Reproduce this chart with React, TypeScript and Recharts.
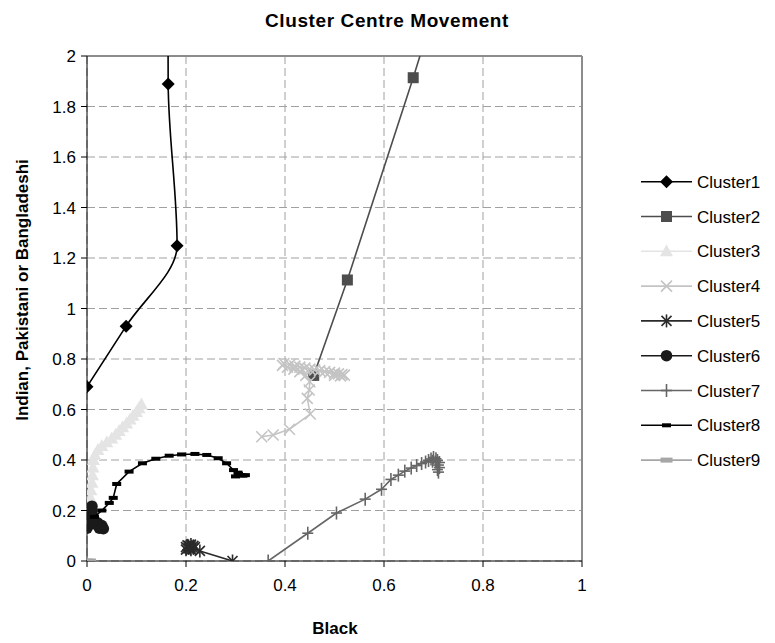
import React from 'react';
import { ScatterChart, Scatter, XAxis, YAxis, CartesianGrid, ReferenceLine, Legend } from 'recharts';

const FONT = '"Liberation Sans", Arial, Helvetica, sans-serif';

const xTicks = [0, 0.2, 0.4, 0.6, 0.8, 1];
const yTicks = [0, 0.2, 0.4, 0.6, 0.8, 1, 1.2, 1.4, 1.6, 1.8, 2];

const cluster1 = [
  { x: 0, y: 0.69 }, { x: 0.079, y: 0.93 }, { x: 0.182, y: 1.249 }, { x: 0.164, y: 1.889 }, { x: 0.163, y: 2.5 },
];
const cluster2 = [
  { x: 0.458, y: 0.735 }, { x: 0.526, y: 1.113 }, { x: 0.659, y: 1.914 }, { x: 0.72, y: 2.3 },
];
const cluster3 = [
  { x: 0.003, y: 0.19 }, { x: 0.005, y: 0.22 }, { x: 0.007, y: 0.25 }, { x: 0.008, y: 0.28 }, { x: 0.01, y: 0.31 },
  { x: 0.011, y: 0.34 }, { x: 0.012, y: 0.37 }, { x: 0.013, y: 0.4 }, { x: 0.016, y: 0.42 }, { x: 0.022, y: 0.44 },
  { x: 0.03, y: 0.455 }, { x: 0.04, y: 0.47 }, { x: 0.05, y: 0.485 }, { x: 0.058, y: 0.5 }, { x: 0.065, y: 0.515 },
  { x: 0.072, y: 0.53 }, { x: 0.08, y: 0.545 }, { x: 0.087, y: 0.56 }, { x: 0.093, y: 0.575 }, { x: 0.1, y: 0.59 },
  { x: 0.105, y: 0.605 }, { x: 0.11, y: 0.62 },
];
const cluster4 = [
  { x: 0.353, y: 0.492 }, { x: 0.376, y: 0.499 }, { x: 0.409, y: 0.522 }, { x: 0.451, y: 0.582 }, { x: 0.445, y: 0.644 },
  { x: 0.449, y: 0.677 }, { x: 0.45, y: 0.71 }, { x: 0.442, y: 0.735 }, { x: 0.43, y: 0.75 }, { x: 0.418, y: 0.76 },
  { x: 0.405, y: 0.768 }, { x: 0.395, y: 0.775 }, { x: 0.398, y: 0.782 }, { x: 0.41, y: 0.778 }, { x: 0.42, y: 0.772 },
  { x: 0.43, y: 0.768 }, { x: 0.44, y: 0.764 }, { x: 0.45, y: 0.76 }, { x: 0.46, y: 0.757 }, { x: 0.47, y: 0.754 },
  { x: 0.48, y: 0.75 }, { x: 0.49, y: 0.747 }, { x: 0.5, y: 0.744 }, { x: 0.508, y: 0.741 }, { x: 0.515, y: 0.738 },
  { x: 0.52, y: 0.736 }, { x: 0.512, y: 0.733 }, { x: 0.5, y: 0.735 },
];
const cluster5 = [
  { x: 0.294, y: 0 }, { x: 0.228, y: 0.04 }, { x: 0.215, y: 0.05 }, { x: 0.205, y: 0.06 }, { x: 0.2, y: 0.055 },
  { x: 0.21, y: 0.065 }, { x: 0.215, y: 0.06 }, { x: 0.205, y: 0.05 }, { x: 0.2, y: 0.045 }, { x: 0.21, y: 0.045 },
  { x: 0.218, y: 0.055 }, { x: 0.203, y: 0.062 }, { x: 0.208, y: 0.052 },
];
const cluster6 = [
  { x: 0.01, y: 0.217 }, { x: 0.01, y: 0.2 }, { x: 0.008, y: 0.185 }, { x: 0.005, y: 0.17 }, { x: 0.003, y: 0.155 },
  { x: 0, y: 0.14 }, { x: 0, y: 0.13 }, { x: 0.012, y: 0.148 }, { x: 0.022, y: 0.15 }, { x: 0.03, y: 0.14 },
  { x: 0.033, y: 0.128 }, { x: 0.025, y: 0.13 }, { x: 0.015, y: 0.16 }, { x: 0.012, y: 0.175 },
];
const cluster7 = [
  { x: 0.366, y: 0 }, { x: 0.446, y: 0.11 }, { x: 0.504, y: 0.19 }, { x: 0.562, y: 0.245 }, { x: 0.595, y: 0.284 },
  { x: 0.614, y: 0.323 }, { x: 0.629, y: 0.34 }, { x: 0.642, y: 0.356 }, { x: 0.655, y: 0.368 }, { x: 0.666, y: 0.378 },
  { x: 0.676, y: 0.386 }, { x: 0.684, y: 0.392 }, { x: 0.69, y: 0.398 }, { x: 0.695, y: 0.404 }, { x: 0.7, y: 0.41 },
  { x: 0.705, y: 0.405 }, { x: 0.708, y: 0.398 }, { x: 0.712, y: 0.39 }, { x: 0.71, y: 0.38 }, { x: 0.712, y: 0.37 },
  { x: 0.708, y: 0.362 }, { x: 0.71, y: 0.352 }, { x: 0.704, y: 0.392 }, { x: 0.698, y: 0.395 },
];
const cluster8 = [
  { x: 0.015, y: 0.175 }, { x: 0.03, y: 0.2 }, { x: 0.045, y: 0.23 }, { x: 0.053, y: 0.25 }, { x: 0.06, y: 0.305 },
  { x: 0.085, y: 0.354 }, { x: 0.112, y: 0.387 }, { x: 0.139, y: 0.405 }, { x: 0.166, y: 0.417 }, { x: 0.191, y: 0.422 },
  { x: 0.218, y: 0.424 }, { x: 0.242, y: 0.42 }, { x: 0.265, y: 0.407 }, { x: 0.282, y: 0.387 }, { x: 0.296, y: 0.36 },
  { x: 0.306, y: 0.345 }, { x: 0.31, y: 0.34 }, { x: 0.315, y: 0.338 }, { x: 0.32, y: 0.34 }, { x: 0.305, y: 0.35 },
  { x: 0.3, y: 0.335 },
];
const cluster9 = [{ x: 0, y: 0 }, { x: 0.006, y: 0 }];

const seriesNames = ['Cluster1', 'Cluster2', 'Cluster3', 'Cluster4', 'Cluster5', 'Cluster6', 'Cluster7', 'Cluster8', 'Cluster9'];
const seriesData = [cluster1, cluster2, cluster3, cluster4, cluster5, cluster6, cluster7, cluster8, cluster9];
const seriesColors = ['#000000', '#4d4d4d', '#e4e4e4', '#c4c4c4', '#2a2a2a', '#1a1a1a', '#666666', '#000000', '#a6a6a6'];
const seriesMarkers = ['diamond', 'square', 'triangle', 'x', 'asterisk', 'circle', 'plus', 'dash', 'bar'];
const seriesCurves = ['monotoneY', 'linear', 'linear', 'linear', 'linear', 'linear', 'linear', 'linear', 'linear'];

function Marker({ kind, cx, cy, color }: { kind: string; cx: number; cy: number; color: string }) {
  if (cx == null || cy == null || isNaN(cx) || isNaN(cy)) return null;
  switch (kind) {
    case 'diamond':
      return <polygon points={`${cx},${cy - 6.5} ${cx + 6.5},${cy} ${cx},${cy + 6.5} ${cx - 6.5},${cy}`} fill={color} />;
    case 'square':
      return <rect x={cx - 5.5} y={cy - 5.5} width={11} height={11} fill={color} />;
    case 'triangle':
      return <polygon points={`${cx},${cy - 7} ${cx + 6.5},${cy + 5} ${cx - 6.5},${cy + 5}`} fill={color} />;
    case 'x':
      return (
        <g stroke={color} strokeWidth={1.6}>
          <line x1={cx - 5.5} y1={cy - 5.5} x2={cx + 5.5} y2={cy + 5.5} />
          <line x1={cx - 5.5} y1={cy + 5.5} x2={cx + 5.5} y2={cy - 5.5} />
        </g>
      );
    case 'asterisk':
      return (
        <g stroke={color} strokeWidth={1.6}>
          <line x1={cx - 5} y1={cy - 5} x2={cx + 5} y2={cy + 5} />
          <line x1={cx - 5} y1={cy + 5} x2={cx + 5} y2={cy - 5} />
          <line x1={cx} y1={cy - 6.5} x2={cx} y2={cy + 6.5} />
        </g>
      );
    case 'circle':
      return <circle cx={cx} cy={cy} r={5.8} fill={color} />;
    case 'plus':
      return (
        <g stroke={color} strokeWidth={1.6}>
          <line x1={cx - 5.5} y1={cy} x2={cx + 5.5} y2={cy} />
          <line x1={cx} y1={cy - 6.5} x2={cx} y2={cy + 6.5} />
        </g>
      );
    case 'dash':
      return <rect x={cx - 4.5} y={cy - 2} width={9} height={4} fill={color} />;
    case 'bar':
      return <rect x={cx - 6} y={cy - 2.5} width={12} height={5} fill={color} />;
    default:
      return null;
  }
}

function LegendBox() {
  return (
    <svg width={145} height={320} style={{ display: 'block' }}>
      {seriesNames.map((name, i) => {
        const y = 21.7 + i * 34.8;
        return (
          <g key={name}>
            <line x1={11} y1={y} x2={62} y2={y} stroke={seriesColors[i]} strokeWidth={1.6} />
            <Marker kind={seriesMarkers[i]} cx={36.5} cy={y} color={seriesColors[i]} />
            <text x={67} y={y} dy="0.36em" fontSize={17} fontFamily={FONT} fill="#000">{name}</text>
          </g>
        );
      })}
    </svg>
  );
}

export default function App() {
  const tickStyle = { fontSize: 17, fill: '#000', fontFamily: FONT };
  return (
    <div style={{ position: 'absolute', left: 0, top: 0, width: 775, height: 643, background: '#fff' }}>
      <ScatterChart width={775} height={643} margin={{ top: 56, right: 193, bottom: 0, left: 0 }}>
        <CartesianGrid stroke="#a0a0a0" strokeDasharray="8 4" />
        <XAxis
          type="number"
          dataKey="x"
          domain={[0, 1]}
          ticks={xTicks}
          interval={0}
          allowDataOverflow
          height={82}
          tick={tickStyle}
          tickSize={6}
          tickMargin={12}
          stroke="#000"
        />
        <YAxis
          type="number"
          dataKey="y"
          domain={[0, 2]}
          ticks={yTicks}
          interval={0}
          allowDataOverflow
          width={87}
          tick={tickStyle}
          tickSize={6}
          tickMargin={5}
          stroke="#000"
        />
        <ReferenceLine y={2} stroke="#8c8c8c" strokeWidth={2} ifOverflow="extendDomain" />
        <ReferenceLine x={1} stroke="#8c8c8c" strokeWidth={2} ifOverflow="extendDomain" />
        {seriesNames.map((name, i) => (
          <Scatter
            key={name}
            name={name}
            data={seriesData[i]}
            fill={seriesColors[i]}
            isAnimationActive={false}
            line={{ stroke: seriesColors[i], strokeWidth: 1.6 }}
            lineJointType={seriesCurves[i] as any}
            shape={(p: any) => <Marker kind={seriesMarkers[i]} cx={p.cx} cy={p.cy} color={seriesColors[i]} />}
          />
        ))}
        <Legend
          layout="vertical"
          align="center"
          verticalAlign="middle"
          content={() => <LegendBox />}
          wrapperStyle={{ left: 630, top: 160, width: 145 }}
        />
      </ScatterChart>
      <svg width={775} height={643} style={{ position: 'absolute', left: 0, top: 0, pointerEvents: 'none' }}>
        <text x={387} y={27} textAnchor="middle" fontSize={19} fontWeight="bold" letterSpacing={0.6} fontFamily={FONT} fill="#000">
          Cluster Centre Movement
        </text>
        <text x={335} y={634} textAnchor="middle" fontSize={17} fontWeight="bold" fontFamily={FONT} fill="#000">
          Black
        </text>
        <text
          x={0}
          y={0}
          transform="translate(28,290) rotate(-90)"
          textAnchor="middle"
          fontSize={17}
          fontWeight="bold"
          fontFamily={FONT}
          fill="#000"
        >
          Indian, Pakistani or Bangladeshi
        </text>
      </svg>
    </div>
  );
}
